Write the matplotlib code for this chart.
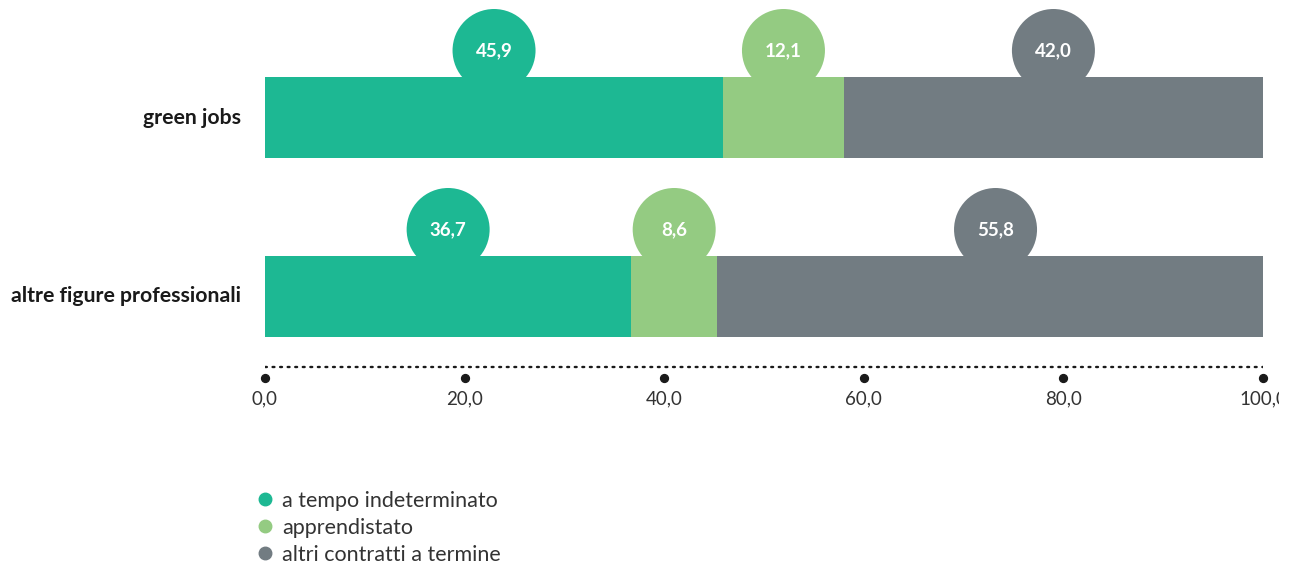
"""
Tipologia contrattuale: green jobs vs altre figure professionali (barre 100%).
"""
import matplotlib.pyplot as plt
import numpy as np
from matplotlib.lines import Line2D

plt.rcParams["font.family"] = ["Lato", "DejaVu Sans"]

categories = ["green jobs", "altre figure professionali"]
series = ["a tempo indeterminato", "apprendistato", "altri contratti a termine"]
values = {
    "a tempo indeterminato": [45.9, 36.7],
    "apprendistato": [12.1, 8.6],
    "altri contratti a termine": [42.0, 55.8],
}
colors = ["#1db893", "#94cb82", "#727c82"]
ticks = [0, 20, 40, 60, 80, 100]
tick_labels = ["0,0", "20,0", "40,0", "60,0", "80,0", "100,0"]

W, H = 1295, 565
fig = plt.figure(figsize=(W / 100, H / 100), dpi=100)
x0, x1 = 265, 1263
ax = fig.add_axes([x0 / W, 0, (x1 - x0) / W, 1])
ax.set_xlim(0, 100)
ax.set_ylim(H, 0)  # y in pixels from the top
ax.axis("off")

bar_y = [117.5, 296.5]
bar_h = 81
circle_dy = 67  # circle centre above bar centre
circle_s = (83 * 72 / 100) ** 2

left = np.zeros(len(categories))
for name, col in zip(series, colors):
    vals = np.array(values[name])
    ax.barh(bar_y, vals, left=left, height=bar_h, color=col, zorder=3)
    mids = left + vals / 2
    cy = np.array(bar_y) - circle_dy
    ax.scatter(mids, cy, s=circle_s, color=col, edgecolors="none", zorder=2)
    for xm, yc, v in zip(mids, cy, vals):
        ax.text(xm, yc, f"{v:.1f}".replace(".", ","), ha="center", va="center",
                color="white", fontsize=13.5, fontweight="bold", zorder=4)
    left += vals

for y, lab in zip(bar_y, categories):
    ax.text(-2.4, y, lab, ha="right", va="center", fontsize=15.3,
            fontweight="bold", color="#1a1a1a", clip_on=False)

# axis: dotted line, dot ticks, labels
ax.plot([0, 100], [367, 367], color="#1a1a1a", lw=1.7, ls=(0, (0.8, 2.4)),
        dash_capstyle="round", zorder=1)
ax.scatter(ticks, [378] * len(ticks), s=32, color="#1a1a1a", zorder=1,
           clip_on=False)
clip = plt.Rectangle((0, 0), 1279 / W, 1, transform=fig.transFigure)
for t, lab in zip(ticks, tick_labels):
    txt = ax.text(t, 399, lab, ha="center", va="center", fontsize=13.5,
                  color="#333333", clip_on=False)
    txt.set_clip_path(clip)
    txt.set_clip_on(True)

handles = [Line2D([], [], ls="none", marker="o", markersize=9, color=c)
           for c in colors]
fig.legend(handles, series, loc="upper left",
           bbox_to_anchor=(241 / W, 1 - 480 / H), frameon=False,
           fontsize=15.5, labelspacing=0.33, handletextpad=0.2,
           handlelength=1.2, labelcolor="#333333", borderpad=0)

fig.savefig("out.png", dpi=100)
